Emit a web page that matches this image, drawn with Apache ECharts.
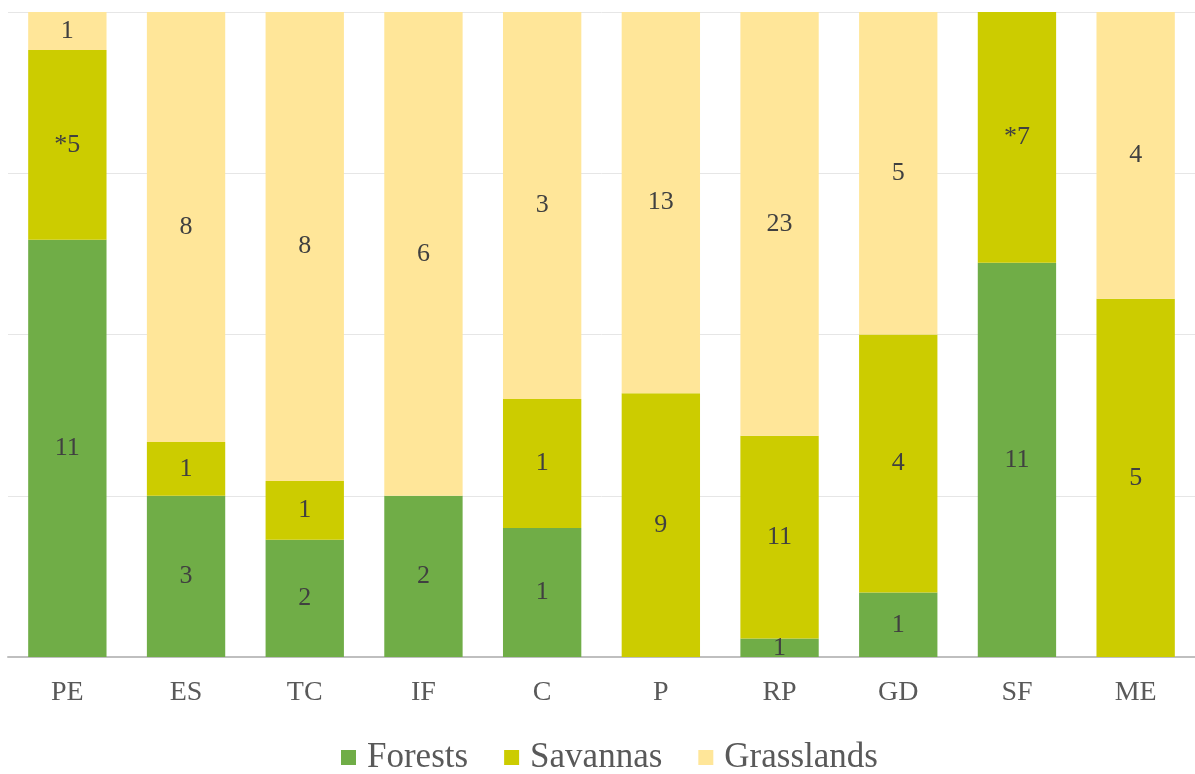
<!DOCTYPE html>
<html>
<head>
<meta charset="utf-8">
<script src="https://cdn.jsdelivr.net/npm/echarts@6/dist/echarts.min.js"></script>
<style>
  html, body { margin: 0; padding: 0; background: #fff; }
  #chart { width: 1195px; height: 774px; }
</style>
</head>
<body>
<div id="chart"></div>
<script>
const categories = ['PE', 'ES', 'TC', 'IF', 'C', 'P', 'RP', 'GD', 'SF', 'ME']
const forests    = [11, 3, 2, 2, 1, 0, 1, 1, 11, 0]
const savannas   = [5, 1, 1, 0, 1, 9, 11, 4, 7, 5]
const grasslands = [1, 8, 8, 6, 3, 13, 23, 5, 0, 4]
// labels shown on the segments (asterisks as printed)
const savannaLabels = ['*5', '1', '1', '', '1', '9', '11', '4', '*7', '5']

const totals = categories.map((_, i) => forests[i] + savannas[i] + grasslands[i])
const pct = (arr) => arr.map((v, i) => v / totals[i] * 100)

const chart = echarts.init(document.getElementById('chart'))

function makeSeries(name, counts, color, labels) {
  return {
    name,
    type: 'bar',
    stack: 'total',
    barCategoryGap: '34%',
    data: pct(counts),
    itemStyle: { color },
    label: {
      show: true,
      position: 'inside',
      color: '#404040',
      fontFamily: 'Liberation Serif',
      fontSize: 26,
      formatter: p => {
        if (labels) return labels[p.dataIndex]
        return counts[p.dataIndex] ? String(counts[p.dataIndex]) : ''
      }
    }
  }
}

chart.setOption({
  animation: false,
  grid: { left: 8, right: -4, top: 12, bottom: 117 },
  legend: {
    top: 735,
    left: 336,
    itemWidth: 15,
    itemHeight: 15,
    itemGap: 36,
    icon: 'rect',
    textStyle: { fontFamily: 'Liberation Serif', fontSize: 35, color: '#595959', padding: [0, 0, 0, 6] },
    data: ['Forests', 'Savannas', 'Grasslands']
  },
  xAxis: {
    type: 'category',
    data: categories,
    axisLine: { lineStyle: { color: '#bfbfbf', width: 2 } },
    axisTick: { show: false },
    axisLabel: { fontFamily: 'Liberation Serif', fontSize: 28, color: '#595959', margin: 22 }
  },
  yAxis: {
    type: 'value',
    min: 0,
    max: 100,
    interval: 25,
    axisLabel: { show: false },
    axisLine: { show: false },
    axisTick: { show: false },
    splitLine: { lineStyle: { color: '#e6e6e6', width: 1 } }
  },
  series: [
    makeSeries('Forests', forests, '#70ad47'),
    makeSeries('Savannas', savannas, '#cccc00', savannaLabels),
    makeSeries('Grasslands', grasslands, '#ffe699')
  ]
})
</script>
</body>
</html>
